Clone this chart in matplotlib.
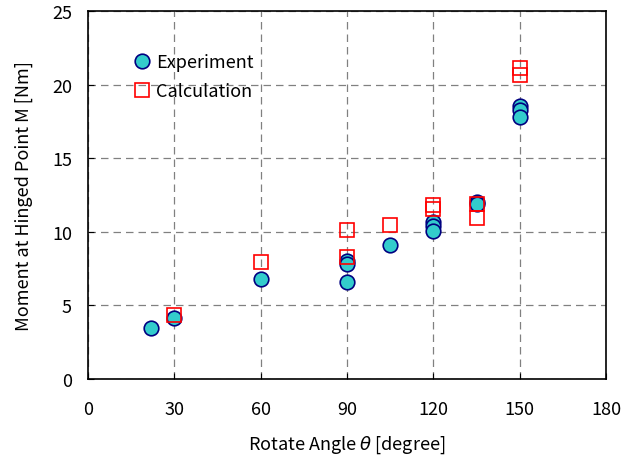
import matplotlib
matplotlib.use("Agg")
import matplotlib.pyplot as plt

plt.rcParams['font.family'] = ['Noto Sans CJK JP', 'DejaVu Sans']
plt.rcParams['mathtext.fontset'] = 'dejavusans'

exp_angle = [22, 30, 60, 90, 90, 90, 105, 120, 120, 120, 135, 135, 150, 150, 150]
exp_moment = [3.5, 4.15, 6.8, 8.05, 7.8, 6.6, 9.1, 10.65, 10.4, 10.05, 12.05, 11.9, 18.55, 18.3, 17.8]

calc_angle = [30, 60, 90, 90, 105, 120, 120, 135, 135, 150, 150]
calc_moment = [4.35, 7.95, 10.15, 8.3, 10.45, 11.8, 11.55, 11.9, 10.95, 21.1, 20.65]

xticks = [0, 30, 60, 90, 120, 150, 180]
yticks = [0, 5, 10, 15, 20, 25]

FS = 13

fig = plt.figure(figsize=(6.4, 4.64), dpi=100)
ax = fig.add_axes([0.1375, 0.181, 0.8095, 0.793])

ax.plot(exp_angle, exp_moment, linestyle='none', marker='o', markersize=10.5,
        markerfacecolor='#33CCCC', markeredgecolor='#000080', markeredgewidth=1.2,
        label='Experiment', zorder=3)
ax.plot(calc_angle, calc_moment, linestyle='none', marker='s', markersize=9.5,
        markerfacecolor='none', markeredgecolor='#FF0000', markeredgewidth=1.2,
        label='Calculation', zorder=4)

ax.set_xlim(0, 180)
ax.set_ylim(0, 25)
ax.set_xticks(xticks)
ax.set_yticks(yticks)
ax.tick_params(direction='in', labelsize=FS, length=4)
ax.tick_params(axis='x', pad=15)
ax.tick_params(axis='y', pad=11.5)
ax.grid(True, linestyle=(0, (6, 4)), color='#808080', linewidth=0.9)
ax.set_axisbelow(True)
for s in ax.spines.values():
    s.set_linewidth(1.2)

ax.set_xlabel('Rotate Angle $\\theta$ [degree]', fontsize=FS, labelpad=11)
ax.set_ylabel('Moment at Hinged Point M [Nm]', fontsize=FS, labelpad=14)

leg = ax.legend(loc='upper left', bbox_to_anchor=(0.089, 0.885), frameon=False,
                fontsize=FS, handletextpad=0.3, borderaxespad=0, borderpad=0,
                labelspacing=0.6, handlelength=0.9)

fig.savefig('out.png', dpi=100)
